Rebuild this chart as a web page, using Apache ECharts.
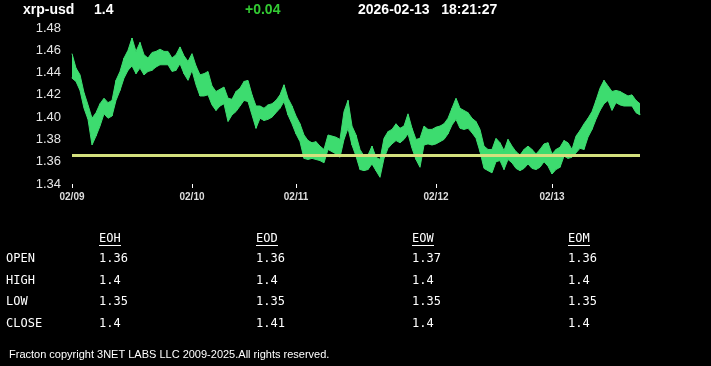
<!DOCTYPE html>
<html>
<head>
<meta charset="utf-8">
<style>
html,body{margin:0;padding:0;background:#000;}
#c{width:711px;height:366px;}
</style>
<script src="https://cdn.jsdelivr.net/npm/echarts@6/dist/echarts.min.js"></script>
</head>
<body>
<div id="c"></div>
<script>
// ---- data ----
const symbol = 'xrp-usd';
const lastPrice = '1.4';
const change = '+0.04';
const stamp = '2026-02-13   18:21:27';

const dayLabels = ['02/09', '02/10', '02/11', '02/12', '02/13'];
const dayStartSample = [0, 30, 56, 91, 120];   // sample index where each day starts

// upper / lower envelope of the price trace per sample
const hi = [1.457,1.444,1.438,1.422,1.411,1.399,1.404,1.412,1.417,1.413,
1.415,1.433,1.441,1.453,1.460,1.471,1.459,1.467,1.456,1.453,
1.458,1.459,1.461,1.459,1.459,1.453,1.456,1.463,1.455,1.450,
1.457,1.446,1.438,1.439,1.441,1.428,1.423,1.425,1.427,1.417,
1.416,1.423,1.426,1.432,1.433,1.420,1.410,1.410,1.408,1.411,
1.412,1.415,1.420,1.429,1.417,1.410,1.401,1.394,1.384,1.379,
1.377,1.378,1.374,1.371,1.384,1.383,1.382,1.380,1.405,1.415,
1.392,1.384,1.371,1.365,1.366,1.374,1.364,1.362,1.381,1.387,
1.389,1.394,1.390,1.392,1.403,1.390,1.380,1.381,1.392,1.389,
1.389,1.391,1.392,1.394,1.399,1.408,1.417,1.408,1.406,1.404,
1.399,1.396,1.389,1.374,1.371,1.371,1.381,1.377,1.370,1.380,
1.374,1.369,1.366,1.371,1.374,1.371,1.367,1.371,1.376,1.377,
1.367,1.371,1.373,1.379,1.377,1.371,1.383,1.388,1.394,1.399,
1.405,1.415,1.426,1.433,1.428,1.423,1.424,1.423,1.421,1.419,
1.420,1.415,1.412];
const lo = [1.435,1.432,1.424,1.408,1.398,1.375,1.383,1.392,1.403,1.399,
1.401,1.415,1.424,1.435,1.442,1.446,1.439,1.444,1.438,1.441,
1.442,1.445,1.447,1.447,1.447,1.441,1.442,1.448,1.439,1.433,
1.442,1.429,1.419,1.419,1.420,1.411,1.406,1.410,1.412,1.396,
1.402,1.405,1.410,1.415,1.414,1.402,1.390,1.399,1.397,1.398,
1.400,1.404,1.408,1.414,1.402,1.394,1.385,1.378,1.363,1.362,
1.363,1.362,1.361,1.359,1.371,1.369,1.367,1.364,1.380,1.390,
1.375,1.365,1.353,1.352,1.353,1.358,1.352,1.346,1.363,1.372,
1.376,1.379,1.377,1.380,1.385,1.372,1.362,1.355,1.375,1.376,
1.375,1.376,1.378,1.380,1.385,1.393,1.398,1.390,1.389,1.390,
1.386,1.381,1.369,1.354,1.352,1.350,1.360,1.361,1.353,1.362,
1.359,1.354,1.352,1.354,1.358,1.354,1.353,1.355,1.360,1.356,
1.349,1.353,1.355,1.365,1.363,1.364,1.368,1.372,1.371,1.382,
1.389,1.398,1.406,1.412,1.415,1.406,1.413,1.411,1.410,1.410,
1.410,1.404,1.402];

const refLevel = 1.366;

const yTicks = [1.34, 1.36, 1.38, 1.40, 1.42, 1.44, 1.46, 1.48];

const tableCols = ['EOH', 'EOD', 'EOW', 'EOM'];
const tableRows = ['OPEN', 'HIGH', 'LOW', 'CLOSE'];
const openVals  = ['1.36', '1.36', '1.37', '1.36'];
const highVals  = ['1.4', '1.4', '1.4', '1.4'];
const lowVals   = ['1.35', '1.35', '1.35', '1.35'];
const closeVals = ['1.4', '1.41', '1.4', '1.4'];
const footer = 'Fracton copyright 3NET LABS LLC 2009-2025.All rights reserved.';

// ---- build band (lower edge + stacked range) ----
const range = hi.map((h, i) => +(h - lo[i]).toFixed(4));
const cats = hi.map(() => '');
dayStartSample.forEach((s, i) => { cats[s] = dayLabels[i]; });
// zig-zag through the envelope for the ragged trace texture
const zig = [];
for (let i = 0; i < hi.length; i++) zig.push(i % 2 ? hi[i] : lo[i]);

const GREEN = '#3ddc6f';
const chart = echarts.init(document.getElementById('c'), null, {renderer: 'canvas'});

const sans = 'Liberation Sans, Arial, sans-serif';
const mono = 'DejaVu Sans Mono, monospace';
const graphics = [
  {type: 'text', left: 23, top: 3, style: {text: symbol, fill: '#fff', font: 'bold 14px ' + sans}},
  {type: 'text', left: 94, top: 3, style: {text: lastPrice, fill: '#fff', font: 'bold 14px ' + sans}},
  {type: 'text', left: 245, top: 3, style: {text: change, fill: '#33cc33', font: 'bold 14px ' + sans}},
  {type: 'text', left: 358, top: 3, style: {text: stamp, fill: '#fff', font: 'bold 14px ' + sans, whiteSpace: 'pre'}},
  {type: 'text', left: 9, top: 349, style: {text: footer, fill: '#fff', font: '11px ' + sans}}
];
const colX = [99, 256, 412, 568];
const rowY = [259, 281, 302, 324];
const rowVals = [openVals, highVals, lowVals, closeVals];
tableCols.forEach((h, j) => {
  graphics.push({type: 'text', x: colX[j], y: 239, style: {text: h, fill: '#fff', font: '12px ' + mono, textVerticalAlign: 'middle'}});
  graphics.push({type: 'line', shape: {x1: colX[j], y1: 245.5, x2: colX[j] + 22, y2: 245.5}, style: {stroke: '#fff', lineWidth: 1}});
});
tableRows.forEach((r, i) => {
  graphics.push({type: 'text', x: 6, y: rowY[i], style: {text: r, fill: '#fff', font: '12px ' + mono, textVerticalAlign: 'middle'}});
  rowVals[i].forEach((v, j) => {
    graphics.push({type: 'text', x: colX[j], y: rowY[i], style: {text: v, fill: '#fff', font: '12px ' + mono, textVerticalAlign: 'middle'}});
  });
});

chart.setOption({
  backgroundColor: '#000',
  animation: false,
  grid: {left: 72, right: 71, top: 28, bottom: 182, containLabel: false},
  xAxis: {
    type: 'category',
    data: cats,
    boundaryGap: false,
    axisLine: {show: false},
    axisTick: {show: true, length: 4, interval: (idx) => cats[idx] !== '', lineStyle: {color: '#fff', width: 1}},
    axisLabel: {show: true, interval: (idx) => cats[idx] !== '', color: '#ddd', fontSize: 10, fontWeight: 'bold', fontFamily: sans, margin: 8},
    splitLine: {show: false}
  },
  yAxis: {
    type: 'value',
    min: yTicks[0],
    max: yTicks[yTicks.length - 1],
    interval: 0.02,
    axisLine: {show: false},
    axisTick: {show: false},
    splitLine: {show: false},
    axisLabel: {color: '#e6e6e6', fontSize: 13, fontFamily: sans, margin: 11, formatter: (v) => v.toFixed(2)}
  },
  series: [{
    type: 'line',
    data: lo,
    stack: 'band',
    symbol: 'none',
    lineStyle: {color: GREEN, width: 1},
    z: 3
  }, {
    type: 'line',
    data: range,
    stack: 'band',
    symbol: 'none',
    lineStyle: {color: GREEN, width: 1},
    areaStyle: {color: GREEN, opacity: 1},
    z: 3
  }, {
    type: 'line',
    data: zig,
    symbol: 'none',
    lineStyle: {color: GREEN, width: 1},
    z: 3
  }, {
    type: 'line',
    data: [],
    symbol: 'none',
    markLine: {
      silent: true,
      symbol: 'none',
      precision: 4,
      label: {show: false},
      lineStyle: {color: '#d4e07e', width: 3, type: 'solid'},
      data: [{yAxis: refLevel}]
    },
    z: 4
  }],
  graphic: graphics
});
</script>
</body>
</html>
